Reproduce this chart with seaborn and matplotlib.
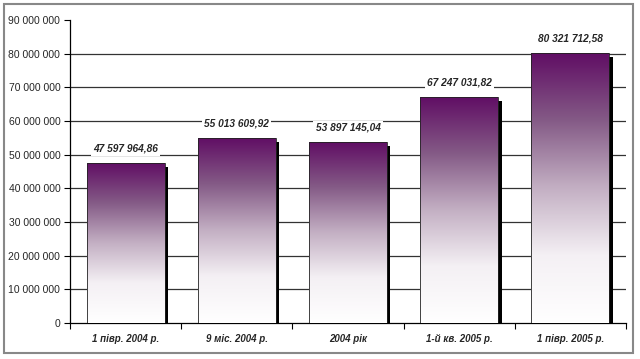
import numpy as np
import pandas as pd
import matplotlib
matplotlib.use("Agg")
import matplotlib.pyplot as plt
import matplotlib.transforms as mtransforms
from matplotlib.colors import LinearSegmentedColormap
from matplotlib.patches import Rectangle
from matplotlib.ticker import FuncFormatter, MultipleLocator
import seaborn as sns

# data
periods = ["1 півр. 2004 р.", "9 міс. 2004 р.", "2004 рік", "1-й кв. 2005 р.", "1 півр. 2005 р."]
amounts = [47597964.86, 55013609.92, 53897145.04, 67247031.82, 80321712.58]
value_labels = ["47 597 964,86", "55 013 609,92", "53 897 145,04", "67 247 031,82", "80 321 712,58"]

df = pd.DataFrame({"period": periods, "amount": amounts})

sns.set_style("white")
plt.rcParams["font.family"] = ["Liberation Sans", "DejaVu Sans"]

fig = plt.figure(figsize=(6.4, 3.59), dpi=100)
ax = fig.add_axes([70 / 640, 36 / 359, 556 / 640, 303 / 359])

sns.barplot(data=df, x="period", y="amount", color="#621062", width=0.7, ax=ax,
            saturation=1, zorder=3)

# --- gradient fill + drop shadow ---
cmap = LinearSegmentedColormap.from_list(
    "purp",
    [(0.0, "#ffffff"), (0.25, "#f4f0f4"), (0.5, "#c3afc3"),
     (0.75, "#845a86"), (1.0, "#600d64")])
grad = np.linspace(0, 1, 256).reshape(-1, 1)
shadow_tr = ax.transData + mtransforms.ScaledTranslation(3.5 / 100, -4 / 100, fig.dpi_scale_trans)
for p in ax.patches[:]:
    x0, y0, w, h = p.get_x(), p.get_y(), p.get_width(), p.get_height()
    ax.add_patch(Rectangle((x0, y0), w, h, transform=shadow_tr, facecolor="black",
                           edgecolor="none", zorder=2))
    im = ax.imshow(grad, extent=[x0, x0 + w, y0, y0 + h], origin="lower",
                   aspect="auto", cmap=cmap, zorder=3)
    im.set_clip_path(p)
    p.set_facecolor("none")
    p.set_edgecolor("#222222")
    p.set_linewidth(0.6)
    p.set_zorder(4)

ax.set_xlim(-0.5, 4.5)
ax.set_ylim(0, 90e6)

# gridlines (none at the top)
ax.hlines(np.arange(10e6, 90e6, 10e6), -0.5, 4.5, color="#333333", lw=0.9, zorder=1)

# value labels
for i, (v, lab) in enumerate(zip(amounts, value_labels)):
    ax.annotate(lab, (i, v), xytext=(0, 10), textcoords="offset points",
                ha="center", va="center", fontsize=7.3, fontweight="bold", fontstyle="italic",
                bbox=dict(facecolor="white", edgecolor="none", pad=1.5), zorder=5)

# axes
ax.yaxis.set_major_locator(MultipleLocator(10e6))
ax.yaxis.set_major_formatter(FuncFormatter(lambda v, p: f"{int(v):,}".replace(",", " ")))
ax.tick_params(axis="y", length=4, width=0.8, direction="out", color="black",
               labelsize=7.5, pad=3, left=True)
ax.set_xticks(range(len(periods)))
ax.set_xticklabels(periods, fontsize=7, fontweight="bold", fontstyle="italic")
ax.set_xticks(np.arange(-0.5, 5, 1), minor=True)
ax.tick_params(axis="x", which="major", length=0, pad=8)
ax.tick_params(axis="x", which="minor", length=4, width=0.8, direction="out",
               color="black", bottom=True)
ax.set_xlabel("")
ax.set_ylabel("")
for s in ["top", "right"]:
    ax.spines[s].set_visible(False)
for s in ["left", "bottom"]:
    ax.spines[s].set_color("black")
    ax.spines[s].set_linewidth(0.9)

# outer frame
fig.patches.append(Rectangle((4 / 640, 6 / 359), 629 / 640, 349 / 359,
                             transform=fig.transFigure, fill=False,
                             edgecolor="#888888", lw=1.5))

fig.savefig("out.png", dpi=100)
